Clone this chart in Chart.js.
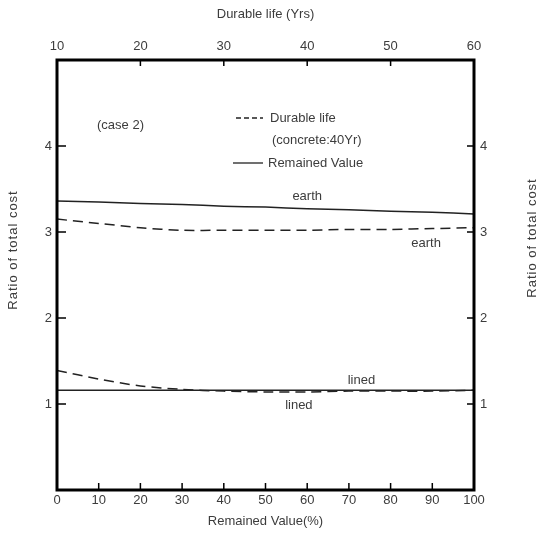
<!DOCTYPE html>
<html>
<head>
<meta charset="utf-8">
<script src="https://cdn.jsdelivr.net/npm/chart.js@4.4.0/dist/chart.umd.min.js"></script>
<style>
  html, body { margin: 0; padding: 0; background: #fff; }
</style>
</head>
<body>
<canvas id="costChart" width="544" height="540"></canvas>
<script>
// values
const remainedValue = [0, 10, 20, 30, 40, 50, 60, 70, 80, 90, 100];
const earthRemained = [3.36, 3.35, 3.33, 3.32, 3.30, 3.29, 3.27, 3.26, 3.24, 3.23, 3.21];
const earthDurable  = [3.15, 3.10, 3.05, 3.02, 3.02, 3.02, 3.02, 3.03, 3.03, 3.04, 3.05];
const linedRemained = [1.16, 1.16, 1.16, 1.16, 1.16, 1.16, 1.16, 1.16, 1.16, 1.16, 1.16];
const linedDurable  = [1.39, 1.29, 1.21, 1.17, 1.15, 1.14, 1.14, 1.15, 1.15, 1.15, 1.16];
const durableTicks = [10, 20, 30, 40, 50, 60];
const ratioTicks = [1, 2, 3, 4];

// curve name tags: [text, remained value, ratio]
const curveTags = [
  ["earth", 60, 3.41],
  ["earth", 88.5, 2.87],
  ["lined", 73, 1.27],
  ["lined", 58, 0.98]
];

const ink = "#222";
const textInk = "#3c3c3c";
const font = { family: "'Liberation Sans', Arial, sans-serif", size: 13 };

function pts(ys) {
  return remainedValue.map((x, i) => ({ x: x, y: ys[i] }));
}

function line(label, ys, dashed) {
  return {
    label: label,
    data: pts(ys),
    borderColor: ink,
    borderWidth: 1.5,
    borderDash: dashed ? [10, 6] : [],
    pointRadius: 0,
    tension: 0.3,
    fill: false
  };
}

const framePlugin = {
  id: "frame",
  afterDraw(chart) {
    const { ctx, chartArea: a, scales } = chart;
    ctx.save();
    ctx.strokeStyle = "#000";
    ctx.lineWidth = 1.5;
    // inward tick marks
    ctx.beginPath();
    scales.x.ticks.forEach(t => {
      if (t.value <= 0 || t.value >= 100) return;
      const px = scales.x.getPixelForValue(t.value);
      ctx.moveTo(px, a.bottom); ctx.lineTo(px, a.bottom - 7);
    });
    scales.x2.ticks.forEach(t => {
      if (t.value <= 10 || t.value >= 60) return;
      const px = scales.x2.getPixelForValue(t.value);
      ctx.moveTo(px, a.top); ctx.lineTo(px, a.top + 6);
    });
    ratioTicks.forEach(v => {
      const py = scales.y.getPixelForValue(v);
      ctx.moveTo(a.left, py); ctx.lineTo(a.left + 9, py);
      ctx.moveTo(a.right, py); ctx.lineTo(a.right - 7, py);
    });
    ctx.stroke();
    // heavy frame
    ctx.lineWidth = 3;
    ctx.strokeRect(a.left, a.top, a.right - a.left, a.bottom - a.top);

    // curve tags
    ctx.fillStyle = textInk;
    ctx.font = "13px 'Liberation Sans', Arial, sans-serif";
    ctx.textAlign = "center";
    ctx.textBaseline = "middle";
    curveTags.forEach(([txt, xv, yv]) => {
      ctx.fillText(txt, scales.x.getPixelForValue(xv), scales.y.getPixelForValue(yv));
    });

    // key
    ctx.textAlign = "left";
    ctx.fillText("(case 2)", 97, 125);
    ctx.fillText("Durable life", 270, 118);
    ctx.fillText("(concrete:40Yr)", 272, 140);
    ctx.fillText("Remained Value", 268, 163);
    ctx.strokeStyle = ink;
    ctx.lineWidth = 1.3;
    ctx.setLineDash([5, 3]);
    ctx.beginPath(); ctx.moveTo(236, 118); ctx.lineTo(263, 118); ctx.stroke();
    ctx.setLineDash([]);
    ctx.beginPath(); ctx.moveTo(233, 163); ctx.lineTo(263, 163); ctx.stroke();

    // side titles
    ctx.textAlign = "center";
    ctx.letterSpacing = "1px";
    ctx.save();
    ctx.translate(13, 250);
    ctx.rotate(-Math.PI / 2);
    ctx.fillText("Ratio of total cost", 0, 0);
    ctx.restore();
    ctx.save();
    ctx.translate(532, 238);
    ctx.rotate(-Math.PI / 2);
    ctx.fillText("Ratio of total cost", 0, 0);
    ctx.restore();
    ctx.restore();
  }
};

const noGrid = { display: false, drawTicks: false };

const costChart = new Chart(document.getElementById("costChart"), {
  type: "line",
  data: {
    datasets: [
      line("earth (Remained Value)", earthRemained, false),
      line("earth (Durable life)", earthDurable, true),
      line("lined (Remained Value)", linedRemained, false),
      line("lined (Durable life)", linedDurable, true)
    ]
  },
  options: {
    responsive: false,
    animation: false,
    layout: { padding: 0 },
    plugins: { legend: { display: false }, tooltip: { enabled: false } },
    scales: {
      x: {
        type: "linear", position: "bottom", min: 0, max: 100,
        grid: noGrid, border: { display: false },
        ticks: { stepSize: 10, color: textInk, font: font, padding: 3, maxRotation: 0 },
        title: { display: true, text: "Remained Value(%)", color: textInk, font: font, padding: { top: 4, bottom: 11 } },
        afterFit(s) { s.height = 50; }
      },
      x2: {
        type: "linear", position: "top", min: 10, max: 60,
        grid: noGrid, border: { display: false },
        afterBuildTicks(s) { s.ticks = durableTicks.map(v => ({ value: v })); },
        ticks: { color: textInk, font: font, padding: 6, maxRotation: 0 },
        title: { display: true, text: "Durable life (Yrs)", color: textInk, font: font, padding: { top: 7, bottom: 4 } },
        afterFit(s) { s.height = 60; }
      },
      y: {
        type: "linear", position: "left", min: 0, max: 5,
        grid: noGrid, border: { display: false },
        afterBuildTicks(s) { s.ticks = ratioTicks.map(v => ({ value: v })); },
        ticks: { color: textInk, font: font, padding: 5 },
        afterFit(s) { s.width = 57; }
      },
      y2: {
        type: "linear", position: "right", min: 0, max: 5,
        grid: noGrid, border: { display: false },
        afterBuildTicks(s) { s.ticks = ratioTicks.map(v => ({ value: v })); },
        ticks: { color: textInk, font: font, padding: 6 },
        afterFit(s) { s.width = 70; }
      }
    }
  },
  plugins: [framePlugin]
});
</script>
</body>
</html>
